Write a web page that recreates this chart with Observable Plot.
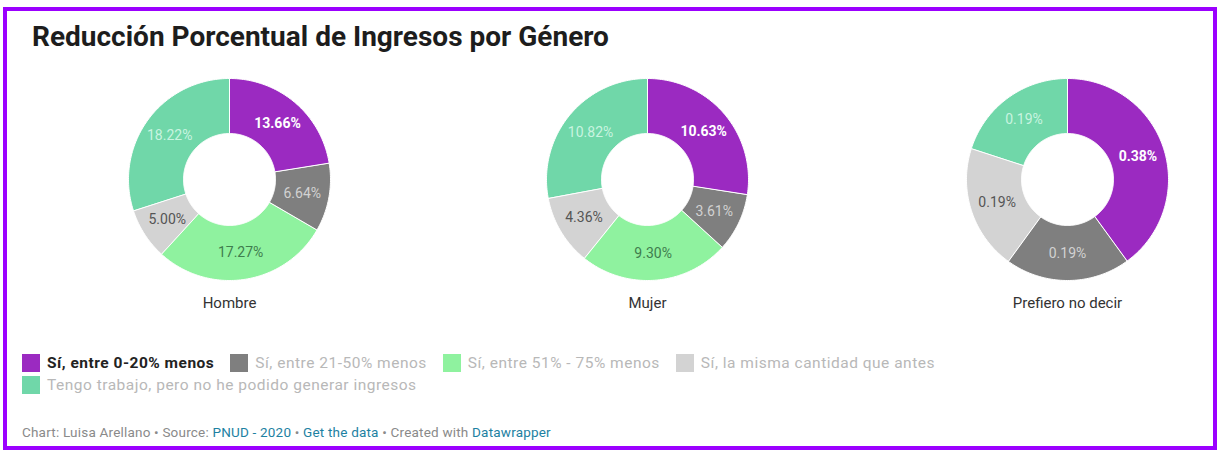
<!DOCTYPE html>
<html>
<head>
<meta charset="utf-8">
<script src="https://cdn.jsdelivr.net/npm/d3@7"></script>
<script src="https://cdn.jsdelivr.net/npm/@observablehq/plot@0.6"></script>
<style>
  html, body { margin: 0; padding: 0; background: #fff; }
  body { width: 1218px; height: 450px; position: relative; overflow: hidden; font-family: Roboto, "Noto Sans", sans-serif; }
  #frame { position: absolute; left: 3px; top: 7px; width: 1206px; height: 435px; border: 4px solid #9b00ff; box-sizing: content-box; }
  #title { position: absolute; left: 32px; top: 20px; font-size: 28px; font-weight: 700; color: #1d1d1d; white-space: nowrap; }
  #chart { position: absolute; left: 0; top: 60px; }
  #legend { position: absolute; left: 22px; top: 352px; width: 1100px; font-size: 15.5px; letter-spacing: 0.5px; }
  .row { display: flex; align-items: center; height: 22px; }
  .item { display: flex; align-items: center; margin-right: 16px; white-space: nowrap; }
  .sw { width: 18px; height: 18px; margin-right: 7px; flex: none; }
  #footer { position: absolute; left: 22px; top: 424px; font-size: 13.5px; letter-spacing: 0.2px; color: #8a8a8a; white-space: nowrap; }
  #footer a { color: #1d81a2; text-decoration: none; }
</style>
</head>
<body>
<div id="frame"></div>
<div id="title">Reducción Porcentual de Ingresos por Género</div>
<div id="chart"></div>
<div id="legend"></div>
<div id="footer">Chart: Luisa Arellano • Source: <a>PNUD - 2020</a> • <a>Get the data</a> • Created with <a>Datawrapper</a></div>
<script>
// ---- data ----
const genders = ["Hombre", "Mujer", "Prefiero no decir"];
const categories = [
  "Sí, entre 0-20% menos",
  "Sí, entre 21-50% menos",
  "Sí, entre 51% - 75% menos",
  "Sí, la misma cantidad que antes",
  "Tengo trabajo, pero no he podido generar ingresos"
];
const hombre   = [13.66, 6.64, 17.27, 5.00, 18.22];
const mujer    = [10.63, 3.61, 9.30, 4.36, 10.82];
const prefiero = [0.38, 0.19, 0, 0.19, 0.19];

// ---- styles / layout ----
const colors     = ["#9b2ac1", "#7f7f7f", "#8ff29f", "#d3d3d3", "#70d7a9"];
const textColors = ["#ffffff", "#d2d2d2", "#3f7d4e", "#555555", "#c9f4e0"];
const textWeights = ["bold", "normal", "normal", "normal", "normal"];
const legendText = ["#222222", "#b8b8b8", "#b8b8b8", "#b8b8b8", "#b8b8b8"];
const W = 1218, H = 270;
const centerX = [229, 647, 1067];
const centerY = 119;
const rOuter = 101, rInner = 46, rLabel = 74;

const seriesByGender = [hombre, mujer, prefiero];

const slices = [];
const labels = [];
genders.forEach((g, gi) => {
  const vals = seriesByGender[gi];
  const arcs = d3.pie().sort(null).value(d => d)(vals);
  const cx = centerX[gi];
  arcs.forEach((a, ci) => {
    if (a.value <= 0) return;
    const pts = [];
    const n = Math.max(2, Math.ceil((a.endAngle - a.startAngle) / (Math.PI / 180)));
    for (let i = 0; i <= n; i++) {
      const t = a.startAngle + (a.endAngle - a.startAngle) * i / n;
      pts.push({gender: g, cat: ci, x: cx + rOuter * Math.sin(t), y: centerY - rOuter * Math.cos(t)});
    }
    for (let i = n; i >= 0; i--) {
      const t = a.startAngle + (a.endAngle - a.startAngle) * i / n;
      pts.push({gender: g, cat: ci, x: cx + rInner * Math.sin(t), y: centerY - rInner * Math.cos(t)});
    }
    slices.push(pts);
    const m = (a.startAngle + a.endAngle) / 2;
    labels.push({gender: g, cat: ci, value: a.value, x: cx + rLabel * Math.sin(m), y: centerY - rLabel * Math.cos(m)});
  });
});

const sliceMarks = slices.map(pts => Plot.line(pts, {
  x: "x", y: "y", curve: "linear-closed",
  fill: colors[pts[0].cat], stroke: "#ffffff", strokeWidth: 1
}));

const labelMarks = categories.map((c, ci) => Plot.text(labels.filter(d => d.cat === ci), {
  x: "x", y: "y", text: d => d.value.toFixed(2) + "%",
  fill: textColors[ci], fontWeight: textWeights[ci], fontSize: 14
}));

const nameMarks = Plot.text(genders, {
  x: (d, i) => centerX[i], y: () => centerY + 124, text: d => d,
  fill: "#333333", fontSize: 15
});

const chart = Plot.plot({
  width: W, height: H,
  marginTop: 0, marginRight: 0, marginBottom: 0, marginLeft: 0,
  x: {domain: [0, W], range: [0, W], axis: null},
  y: {domain: [0, H], range: [0, H], axis: null},
  style: {fontFamily: "Roboto, 'Noto Sans', sans-serif", background: "transparent"},
  marks: [...sliceMarks, ...labelMarks, nameMarks]
});
document.getElementById("chart").appendChild(chart);

// ---- legend ----
const legend = document.getElementById("legend");
const rows = [[0, 1, 2, 3], [4]];
rows.forEach(r => {
  const row = document.createElement("div");
  row.className = "row";
  r.forEach(ci => {
    const it = document.createElement("div");
    it.className = "item";
    const sw = document.createElement("span");
    sw.className = "sw";
    sw.style.background = colors[ci];
    const tx = document.createElement("span");
    tx.textContent = categories[ci];
    tx.style.color = legendText[ci];
    if (ci === 0) tx.style.fontWeight = "bold";
    it.appendChild(sw); it.appendChild(tx);
    row.appendChild(it);
  });
  legend.appendChild(row);
});
</script>
</body>
</html>
